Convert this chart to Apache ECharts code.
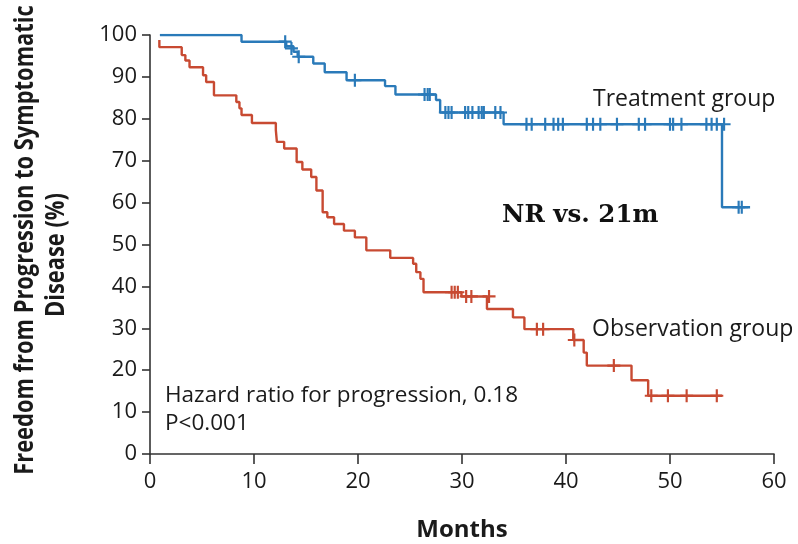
<!DOCTYPE html>
<html><head><meta charset="utf-8">
<script src="https://cdn.jsdelivr.net/npm/echarts@6/dist/echarts.min.js"></script>
<style>html,body{margin:0;padding:0;background:#fff}#c{width:798px;height:544px}</style>
</head><body><div id="c"></div>
<script>
// Kaplan-Meier step points [month, percent]
const treatmentSteps = [[0.95,100],[8.8,98.4],[13.1,97.3],[13.8,96.0],[14.2,94.8],[15.7,93.2],[16.8,91.1],[18.9,89.2],[22.6,87.8],[23.6,85.8],[27.5,84.5],[27.9,81.5],[34.0,78.7],[55.0,58.9],[57.7,58.9]];
const treatmentCensored = [[13.0,98.4],[13.6,96.8],[14.3,94.8],[19.7,89.2],[26.4,85.8],[26.7,85.8],[26.9,85.8],
  [28.4,81.5],[28.7,81.5],[29.0,81.5],[30.3,81.5],[30.6,81.5],[31.0,81.5],[31.6,81.5],[31.9,81.5],[32.1,81.5],[33.2,81.5],[33.7,81.5],
  [36.2,78.7],[36.7,78.7],[38.0,78.7],[38.8,78.7],[39.25,78.7],[39.7,78.7],[42.0,78.7],[42.6,78.7],[43.3,78.7],[44.9,78.7],[47.0,78.7],[47.6,78.7],[50.0,78.7],[50.3,78.7],[51.1,78.7],[53.5,78.7],[54.0,78.7],[54.5,78.7],[55.2,78.7],
  [56.6,58.9],[56.9,58.9]];
const observationSteps = [[0.9,98.8],[0.9,97.1],[3.05,95.2],[3.4,93.9],[3.8,92.3],[5.1,90.4],[5.4,88.8],[6.15,85.6],[8.3,84.0],[8.6,82.5],[8.8,80.9],[9.8,79.0],[12.1,77.3],[12.2,74.5],[12.9,72.9],[14.1,69.7],[14.65,67.9],[15.5,66.1],[16.0,62.9],[16.6,57.7],[17.05,56.5],[17.7,54.9],[18.65,53.3],[19.7,51.7],[20.8,48.6],[23.1,46.8],[25.3,45.4],[25.6,43.4],[26.0,41.8],[26.3,38.6],[29.95,37.6],[32.4,34.6],[34.9,32.6],[36.0,29.8],[40.7,27.2],[41.7,24.2],[42.0,21.1],[46.3,17.6],[47.9,13.9],[55.0,13.9]];
const observationCensored = [[29.0,38.6],[29.3,38.6],[29.6,38.6],[30.4,37.6],[30.9,37.6],[32.6,37.6],[37.2,29.8],[37.8,29.8],[40.8,27.2],[44.6,21.1],[48.2,13.9],[49.8,13.9],[51.6,13.9],[54.5,13.9]];
const xTicks = [0,10,20,30,40,50,60];
const yTicks = [0,10,20,30,40,50,60,70,80,90,100];
const yTitle = ['Freedom from Progression to Symptomatic','Disease (%)'];
const xTitle = 'Months';

const BLUE = '#2a7ab9', RED = '#c84a32', INK = '#1a1a1a';
const plus = 'path://M5,0H7V5H12V7H7V12H5V7H0V5H5Z';
const font = '"Open Sans", "Noto Sans", sans-serif';
const chart = echarts.init(document.getElementById('c'), null, {renderer:'canvas'});
chart.setOption({
  animation:false,
  grid:{left:150,right:24,top:35,bottom:90,outerBoundsMode:'none',containLabel:false},
  xAxis:{type:'value',min:xTicks[0],max:xTicks[xTicks.length-1],interval:10,
    name:xTitle,nameLocation:'middle',nameGap:64,
    nameTextStyle:{fontFamily:font,fontWeight:'bold',fontSize:24,color:INK},
    axisLine:{lineStyle:{color:'#333',width:1.6}},axisTick:{length:10,lineStyle:{color:'#333',width:1.6}},
    axisLabel:{fontFamily:font,fontSize:22,color:INK,margin:17},splitLine:{show:false}},
  yAxis:{type:'value',min:yTicks[0],max:yTicks[yTicks.length-1],interval:10,
    axisLine:{show:true,lineStyle:{color:'#333',width:1.6}},axisTick:{show:true,length:8,lineStyle:{color:'#333',width:1.6}},
    axisLabel:{fontFamily:font,fontSize:22,color:INK,margin:13},splitLine:{show:false}},
  series:[
    {type:'line',step:'end',data:treatmentSteps,showSymbol:false,lineStyle:{color:BLUE,width:2.4},z:3},
    {type:'scatter',data:treatmentCensored,symbol:plus,symbolSize:13,itemStyle:{color:BLUE,opacity:1},z:4},
    {type:'line',step:'end',data:observationSteps,showSymbol:false,lineStyle:{color:RED,width:2.4},z:3},
    {type:'scatter',data:observationCensored,symbol:plus,symbolSize:13,itemStyle:{color:RED,opacity:1},z:4}
  ],
  graphic:[
    {type:'text',x:25,y:240,rotation:Math.PI/2,scaleX:0.81,scaleY:1,
      style:{text:yTitle[0],fontFamily:font,fontWeight:'bold',fontSize:27,fill:INK,textAlign:'center',textVerticalAlign:'middle'}},
    {type:'text',x:56,y:255,rotation:Math.PI/2,scaleX:0.81,scaleY:1,
      style:{text:yTitle[1],fontFamily:font,fontWeight:'bold',fontSize:27,fill:INK,textAlign:'center',textVerticalAlign:'middle'}},
    {type:'text',x:593,y:99,style:{text:'Treatment group',fontFamily:font,fontSize:23,fill:INK,textAlign:'left',textVerticalAlign:'middle'}},
    {type:'text',x:592,y:329,style:{text:'Observation group',fontFamily:font,fontSize:23,fill:INK,textAlign:'left',textVerticalAlign:'middle'}},
    {type:'text',x:502,y:216,style:{text:'NR vs. 21m',fontFamily:'"DejaVu Serif", serif',fontWeight:'bold',fontSize:24.5,fill:'#111',textAlign:'left',textVerticalAlign:'middle'}},
    {type:'text',x:165,y:396,style:{text:'Hazard ratio for progression, 0.18',fontFamily:font,fontSize:22.5,fill:INK,textAlign:'left',textVerticalAlign:'middle'}},
    {type:'text',x:165,y:424,style:{text:'P<0.001',fontFamily:font,fontSize:22.5,fill:INK,textAlign:'left',textVerticalAlign:'middle'}}
  ]
});
</script></body></html>
